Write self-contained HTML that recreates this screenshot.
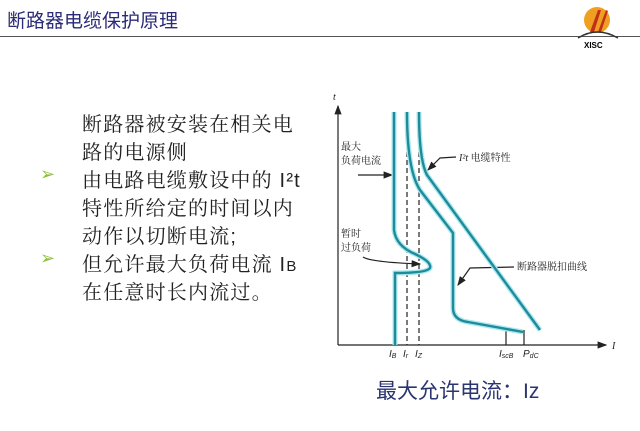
<!DOCTYPE html>
<html><head><meta charset="utf-8"><style>
body{margin:0;width:640px;height:431px;background:#fff;position:relative;overflow:hidden;font-family:"Liberation Sans","Noto Sans CJK SC",sans-serif}
.t{position:absolute;white-space:nowrap}
.l{position:absolute;left:82px;font-size:20px;letter-spacing:1.2px;color:#222;white-space:nowrap;font-family:"Liberation Sans","Noto Serif CJK SC",serif}
.b{position:absolute;left:40px;color:#8cbf3a;font-size:18px}
</style></head><body>
<div class="t" style="left:7px;top:6px;font-size:19px;color:#2b2b78">断路器电缆保护原理</div>
<div style="position:absolute;left:0;top:36px;width:640px;height:1px;background:#555"></div>
<svg style="position:absolute;left:570px;top:2px" width="60" height="50">
<circle cx="27" cy="18" r="13" fill="#f0a020"/><path d="M20 30 L28 8 L31 8 L24 30Z M28 30 L36 8 L38 9 L31 30Z" fill="#c0301a"/>
<path d="M8 36 Q27 24 48 36" stroke="#333" fill="none" stroke-width="1.5"/>
<text x="14" y="46" font-size="8" font-weight="bold" font-family="Liberation Sans">XISC</text></svg>
<div class="l" style="top:108px">断路器被安装在相关电</div>
<div class="l" style="top:136px">路的电源侧</div>
<div class="b" style="top:164px">➢</div>
<div class="l" style="top:164px">由电路电缆敷设中的 I²t</div>
<div class="l" style="top:192px">特性所给定的时间以内</div>
<div class="l" style="top:220px">动作以切断电流;</div>
<div class="b" style="top:248px">➢</div>
<div class="l" style="top:248px">但允许最大负荷电流 I<span style="font-size:15px">B</span></div>
<div class="l" style="top:276px">在任意时长内流过。</div>
<svg style="position:absolute;left:0;top:0" width="640" height="431">
<defs><marker id="a" markerWidth="8" markerHeight="8" refX="7" refY="4" orient="auto"><path d="M0 1 L8 4 L0 7Z" fill="#222"/></marker></defs>
<g stroke="#222" stroke-width="1.2" fill="none">
<path d="M338 345 V106" marker-end="url(#a)"/><path d="M338 345 H606" marker-end="url(#a)"/>
<path d="M407 112V345M419 112V345" stroke-dasharray="5,3"/>
<path d="M506 330V345M524 330V345"/>
<path d="M358 175 H392" marker-end="url(#a)"/>
<path d="M363 257 Q370 262 420 264" marker-end="url(#a)"/>
<path d="M456 157 L440 158 L428 170" marker-end="url(#a)"/>
<path d="M514 267 L470 268 L458 285" marker-end="url(#a)"/>
</g>
<g stroke="#a8e8f0" stroke-width="5" fill="none">
<path d="M394 112V230 Q396 246 415 254 Q432 262 430 268 Q427 273 395 273 V345"/>
<path d="M407 112 Q407 170 420 190 L453 233 V308 Q453 320 468 322 L523 332"/>
<path d="M419 112 Q419 160 427 175 L540 330"/>
</g>
<g stroke="#1f8a98" stroke-width="2.4" fill="none">
<path d="M394 112V230 Q396 246 415 254 Q432 262 430 268 Q427 273 395 273 V345"/>
<path d="M407 112 Q407 170 420 190 L453 233 V308 Q453 320 468 322 L523 332"/>
<path d="M419 112 Q419 160 427 175 L540 330"/>
</g>
<g font-family="Liberation Serif,Noto Serif CJK SC,serif" font-size="10" fill="#222">
<text x="341" y="150">最大</text><text x="341" y="164">负荷电流</text>
<text x="341" y="237">暂时</text><text x="341" y="251">过负荷</text>
<text x="459" y="161"><tspan font-style="italic">I²t</tspan> 电缆特性</text>
<text x="517" y="270">断路器脱扣曲线</text>
<text x="333" y="100" font-style="italic">t</text><text x="612" y="349" font-style="italic">I</text>
<g font-style="italic" font-family="Liberation Sans" font-size="10">
<text x="389" y="357">I<tspan font-size="7" dy="1">B</tspan></text>
<text x="403" y="357">I<tspan font-size="7" dy="1">r</tspan></text>
<text x="415" y="357">I<tspan font-size="7" dy="1">Z</tspan></text>
<text x="499" y="357">I<tspan font-size="7" dy="1">scB</tspan></text>
<text x="523" y="357">P<tspan font-size="7" dy="1">dC</tspan></text></g>
</g></svg>
<div class="t" style="left:376px;top:375px;font-size:21px;color:#2a3470">最大允许电流：Iz</div>
</body></html>
